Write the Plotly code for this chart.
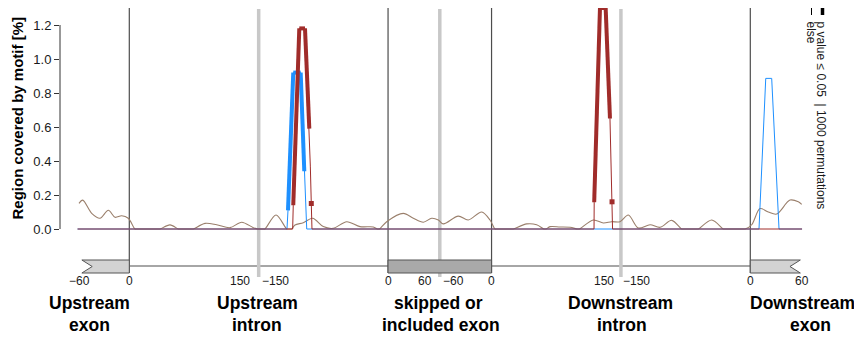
import plotly.graph_objects as go

# ---------------- data ----------------
# Global position axis (nt): upstream exon [-60,0] -> 0..60, upstream intron 5' [0,150] -> 60..210,
# upstream intron 3' [-150,0] -> 210..360, skipped exon [0,60] -> 360..420, [-60,0] -> 420..480,
# downstream intron 5' [0,150] -> 480..630, 3' [-150,0] -> 630..780, downstream exon [0,60] -> 780..840
SEGMENT_LENGTHS = [60, 150, 150, 60, 60, 150, 150, 60]
BOUNDARY_SOLID = [60, 360, 480, 780]
BOUNDARY_BREAK = [210, 420, 630]

# background motif coverage (brown line), global position / value [%]
bg_pos = [1.7, 6.0, 16.4, 26.0, 35.7, 43.4, 51.2, 58.8, 66.6, 68.0, 94.2, 95.6, 107.2, 116.8,
          118.0, 133.0, 134.2, 147.8, 161.3, 176.8, 190.3, 203.8, 209.2, 210.5, 216.0, 217.3,
          230.1, 242.5, 243.8, 247.0, 248.3, 252.1, 261.7, 272.6, 284.9, 296.5, 312.1, 327.5,
          342.9, 347.5, 348.7, 350.0, 358.4, 377.7, 389.3, 400.9, 410.6, 418.3, 424.1, 441.4,
          453.0, 468.6, 478.2, 484.0, 485.4, 503.8, 505.2, 520.8, 532.3, 540.8, 542.0, 543.2,
          547.8, 559.4, 571.0, 579.4, 580.6, 581.8, 598.0, 609.6, 619.3, 628.9, 638.6, 650.2,
          663.8, 675.4, 688.9, 700.5, 701.9, 718.3, 719.7, 735.3, 748.7, 750.1, 772.5, 773.9,
          781.6, 791.3, 800.9, 810.6, 826.0, 835.7, 839.6]
bg_val = [0.151, 0.17, 0.092, 0.063, 0.11, 0.069, 0.078, 0.063, 0.0, 0.0, 0.0, 0.0, 0.024, 0.0,
          0.0, 0.0, 0.0, 0.033, 0.025, 0.008, 0.04, 0.008, 0.0, 0.0, 0.0, 0.0,
          0.082, 0.0, 0.0, 0.0, 0.0, 0.024, 0.037, 0.063, 0.014, 0.004, 0.043, 0.014,
          0.012, 0.0, 0.0, 0.0, 0.043, 0.092, 0.063, 0.04, 0.063, 0.053, 0.03, 0.076,
          0.053, 0.10, 0.053, 0.0, 0.0, 0.0, 0.0, 0.03, 0.025, 0.0, 0.0, 0.0,
          0.014, 0.012, 0.01, 0.0, 0.0, 0.0, 0.053, 0.035, 0.043, 0.043, 0.082, 0.006,
          0.025, 0.01, 0.051, 0.0, 0.0, 0.0, 0.0, 0.053, 0.0, 0.0, 0.0, 0.0,
          0.025, 0.12, 0.10, 0.088, 0.17, 0.16, 0.145]

# blue series: upstream intron (relative to 3' end, -150..0) and downstream exon (0..60)
blue_ui_pos = [-117.2, -116.0, -109.9, -101.3, -97.1, -94.3]
blue_ui_val = [0.0, 0.11, 0.92, 0.92, 0.34, 0.0]
blue_ui_sig = [0, 1, 1, 1, 1, 0]
blue_de_pos = [10.1, 17.9, 24.8, 33.3]
blue_de_val = [0.0, 0.886, 0.886, 0.0]
blue_de_sig = [0, 0, 0, 0]

# red series: upstream intron (-150..0) and downstream intron (0..150)
red_ui_pos = [-110.6, -109.9, -102.9, -96.3, -91.3, -90.1, -89.0, -88.2]
red_ui_val = [0.0, 0.14, 1.18, 1.18, 0.59, 0.37, 0.15, 0.0]
red_ui_sig = [0, 1, 1, 1, 1, 0, 1, 0]
red_di_pos = [118.8, 119.0, 125.7, 132.3, 137.3, 138.5, 139.7, 140.3]
red_di_val = [0.0, 0.157, 1.30, 1.30, 0.65, 0.40, 0.16, 0.0]
red_di_sig = [0, 1, 1, 1, 1, 0, 1, 0]

y_ticks = [0.0, 0.2, 0.4, 0.6, 0.8, 1.0, 1.2]
y_tick_text = ["0.0", "0.2", "0.4", "0.6", "0.8", "1.0", "1.2"]
region_labels = [("Upstream", "exon"), ("Upstream", "intron"), ("skipped or", "included exon"),
                 ("Downstream", "intron"), ("Downstream", "exon")]

TOTAL = sum(SEGMENT_LENGTHS)

# ---------------- build series ----------------
def assemble(parts):
    xs, ys, ss = [0.0], [0.0], [0]
    for pos, val, sig, off in parts:
        xs += [p + off for p in pos]
        ys += list(val)
        ss += list(sig)
    xs.append(float(TOTAL)); ys.append(0.0); ss.append(0)
    return xs, ys, ss

blue_x, blue_y, blue_s = assemble([(blue_ui_pos, blue_ui_val, blue_ui_sig, 360),
                                   (blue_de_pos, blue_de_val, blue_de_sig, 780)])
red_x, red_y, red_s = assemble([(red_ui_pos, red_ui_val, red_ui_sig, 360),
                                (red_di_pos, red_di_val, red_di_sig, 480)])

def thick_parts(xs, ys, ss):
    tx, ty, px, py = [], [], [], []
    n = len(xs)
    for i in range(n):
        if not ss[i]:
            continue
        prev = i > 0 and ss[i - 1]
        nxt = i < n - 1 and ss[i + 1]
        if not prev and not nxt:
            px.append(xs[i]); py.append(ys[i])
        if nxt:
            tx += [xs[i], xs[i + 1], None]
            ty += [ys[i], ys[i + 1], None]
    return tx, ty, px, py

RED = "#a02c2a"
BLUE = "#1e90ff"
BROWN = "#9a7f6b"

fig = go.Figure()
fig.add_trace(go.Scatter(x=bg_pos, y=bg_val, mode="lines",
                         line=dict(color=BROWN, width=1.1, shape="spline", smoothing=0.9),
                         hoverinfo="skip", showlegend=False))
for xs, ys, ss, col in [(blue_x, blue_y, blue_s, BLUE), (red_x, red_y, red_s, RED)]:
    fig.add_trace(go.Scatter(x=xs, y=ys, mode="lines", line=dict(color=col, width=1),
                             hoverinfo="skip", showlegend=False))
    tx, ty, px, py = thick_parts(xs, ys, ss)
    fig.add_trace(go.Scatter(x=tx, y=ty, mode="lines", line=dict(color=col, width=4),
                             hoverinfo="skip", showlegend=False))
    if px:
        fig.add_trace(go.Scatter(x=px, y=py, mode="markers",
                                 marker=dict(symbol="square", size=5, color=col),
                                 hoverinfo="skip", showlegend=False))

# ---------------- geometry helpers (pixel layout) ----------------
W, H = 854, 338
ML, MT = 60, 8
S = 0.8625          # px per nt
X0 = 77.55          # pixel of position 0
YS = 170.0          # px per unit
Y0 = 229.0          # pixel of value 0

def u_of(px):
    return (px - X0) / S

def v_of(py):
    return (Y0 - py) / YS

shapes = []
# y axis line
shapes.append(dict(type="line", xref="paper", yref="y", x0=0, x1=0, y0=0, y1=1.2,
                   line=dict(color="#333333", width=1)))
# gene structure: backbone
shapes.append(dict(type="line", xref="x", yref="y", x0=60, x1=780, y0=v_of(266), y1=v_of(266),
                   line=dict(color="#a6a6a6", width=2), layer="below"))
bt, bb, bm = v_of(260), v_of(273), v_of(266.5)
shapes.append(dict(type="path", xref="x", yref="y",
                   path=f"M 5,{bt} L 60,{bt} L 60,{bb} L 5,{bb} L 17,{bm} Z",
                   fillcolor="#d3d3d3", line=dict(color="#555555", width=1)))
shapes.append(dict(type="rect", xref="x", yref="y", x0=360, x1=480, y0=bb, y1=bt,
                   fillcolor="#a9a9a9", line=dict(color="#555555", width=1)))
shapes.append(dict(type="path", xref="x", yref="y",
                   path=f"M 780,{bt} L 838,{bt} L 826,{bm} L 838,{bb} L 780,{bb} Z",
                   fillcolor="#d3d3d3", line=dict(color="#555555", width=1)))
for b in BOUNDARY_SOLID:
    shapes.append(dict(type="line", xref="x", yref="y", x0=b, x1=b, y0=v_of(273), y1=v_of(8),
                       line=dict(color="#4d4d4d", width=1.2), layer="below"))
for b in BOUNDARY_BREAK:
    shapes.append(dict(type="line", xref="x", yref="y", x0=b, x1=b, y0=v_of(277), y1=v_of(9),
                       line=dict(color="#c8c8c8", width=3.5), layer="below"))
# legend symbols
shapes.append(dict(type="line", xref="x", yref="y", x0=u_of(822.5), x1=u_of(822.5),
                   y0=v_of(3), y1=v_of(15), line=dict(color="#000000", width=3.5)))
shapes.append(dict(type="line", xref="x", yref="y", x0=u_of(811.5), x1=u_of(811.5),
                   y0=v_of(3), y1=v_of(15), line=dict(color="#000000", width=1)))

ann = []
FONT = "Liberation Sans, Arial, Helvetica, sans-serif"
tick_y = v_of(281)
def tick(u, text, anchor="center", shift=0):
    ann.append(dict(x=u, y=tick_y, xref="x", yref="y", text=text, showarrow=False,
                    xanchor=anchor, yanchor="middle", xshift=shift,
                    font=dict(family=FONT, size=12, color="#1a1a1a")))
tick(2, "\u221260"); tick(60, "0")
tick(210, "150", "right", -7); tick(210, "\u2212150", "left", 1)
tick(360, "0"); tick(420, "60", "right", -6); tick(420, "\u221260", "left", 1); tick(480, "0")
tick(630, "150", "right", -5); tick(630, "\u2212150", "left", 0)
tick(780, "0"); tick(840, "60")

label_x = [[u_of(89.7), u_of(89.5)], [u_of(257.5), u_of(257)], [u_of(438), u_of(440.8)],
           [u_of(620.8), u_of(621.7)], [u_of(802.5), u_of(810)]]
for (l1, l2), (x1, x2) in zip(region_labels, label_x):
    for t, xx, yy in [(l1, x1, 302.7), (l2, x2, 325)]:
        ann.append(dict(x=xx, y=v_of(yy), xref="x", yref="y", text=f"<b>{t}</b>",
                        showarrow=False, xanchor="center", yanchor="middle",
                        font=dict(family=FONT, size=17.5, color="#000000")))

ann.append(dict(x=(17 - ML) / (W - ML), y=v_of(118.5), xref="paper", yref="y",
                text="<b>Region covered by motif [%]</b>", textangle=-90, showarrow=False,
                xanchor="center", yanchor="middle",
                font=dict(family=FONT, size=15, color="#000000")))
ann.append(dict(x=u_of(820.5), y=v_of(19), xref="x", yref="y",
                text="p value \u2264 0.05  | 1000 permutations", textangle=90, showarrow=False,
                xanchor="center", yanchor="top",
                font=dict(family=FONT, size=12, color="#1a1a1a")))
ann.append(dict(x=u_of(810.5), y=v_of(19), xref="x", yref="y",
                text="else", textangle=90, showarrow=False,
                xanchor="center", yanchor="top",
                font=dict(family=FONT, size=12, color="#1a1a1a")))

fig.update_layout(
    width=W, height=H,
    margin=dict(l=ML, r=0, t=MT, b=0, pad=0),
    paper_bgcolor="white", plot_bgcolor="white",
    shapes=shapes, annotations=ann, showlegend=False,
    xaxis=dict(range=[u_of(ML), u_of(W)], visible=False, fixedrange=True),
    yaxis=dict(range=[v_of(H), v_of(MT)], tickvals=y_ticks, ticktext=y_tick_text,
               ticks="outside", ticklen=5, tickwidth=1, tickcolor="#333333",
               showgrid=False, zeroline=False, showline=False,
               tickfont=dict(family=FONT, size=13, color="#1a1a1a"), fixedrange=True),
)
fig.write_html("out.html", config={"displayModeBar": False},
               post_script="document.body.style.margin='0';")
